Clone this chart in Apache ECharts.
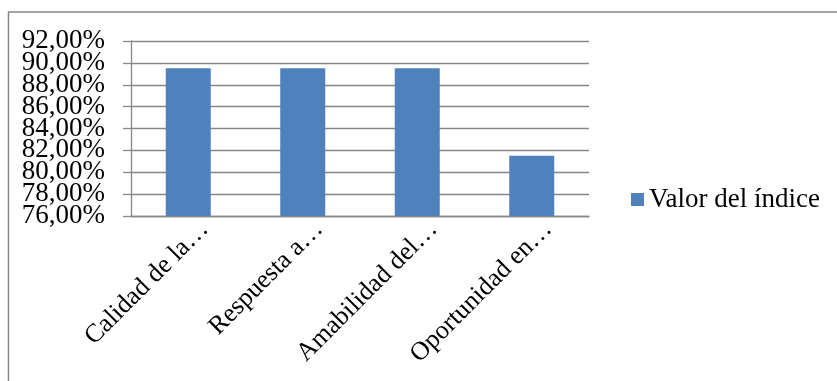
<!DOCTYPE html>
<html>
<head>
<meta charset="utf-8">
<script src="https://cdn.jsdelivr.net/npm/echarts@6/dist/echarts.min.js"></script>
<style>
  html, body { margin: 0; padding: 0; background: #fff; }
  #grafico { width: 837px; height: 381px; }
</style>
</head>
<body>
<div id="grafico"></div>
<script>
// datos del grafico
var categorias = ['Calidad de la…', 'Respuesta a…', 'Amabilidad del…', 'Oportunidad en…'];
var valorIndice = [89.5, 89.5, 89.5, 81.5];
var nombreSerie = 'Valor del índice';
var ejeMin = 76, ejeMax = 92, ejePaso = 2;

var fuente = 'Liberation Serif, Times New Roman, serif';
var gris = '#878787';

function formatoPct(v) {
    return v.toFixed(2).replace('.', ',') + '%';
}

// etiquetas del eje y repartidas en dos ejes para que no se oculten al solaparse
function ejeEtiquetas(paso, formatter, extremos) {
    return {
        type: 'value',
        position: 'left',
        offset: 0,
        min: ejeMin,
        max: ejeMax,
        interval: paso,
        axisLine: {show: false},
        axisTick: {show: false},
        splitLine: {show: false},
        axisLabel: {
            margin: 26,
            showMinLabel: extremos,
            showMaxLabel: extremos,
            fontFamily: fuente,
            fontSize: 27,
            color: '#000',
            formatter: formatter
        }
    };
}

var myChart = echarts.init(document.getElementById('grafico'));

var option = {
    backgroundColor: '#fff',
    animation: false,
    graphic: [
        {
            type: 'rect',
            shape: {x: 8.5, y: 12, width: 900, height: 450},
            style: {fill: 'none', stroke: gris, lineWidth: 1.5}
        }
    ],
    legend: {
        data: [nombreSerie],
        left: 631,
        top: 186,
        padding: 0,
        itemWidth: 13,
        itemHeight: 13,
        icon: 'rect',
        textStyle: {fontFamily: fuente, fontSize: 27, color: '#000'}
    },
    grid: {
        left: 131,
        right: 248,
        top: 41,
        bottom: 165
    },
    xAxis: [
        {
            type: 'category',
            data: categorias,
            axisLine: {lineStyle: {color: gris, width: 1.3}},
            axisTick: {length: 6, lineStyle: {color: gris, width: 1.3}},
            axisLabel: {
                rotate: 45,
                interval: 0,
                margin: -7,
                verticalAlign: 'top',
                padding: [10, 0, 0, 0],
                fontFamily: fuente,
                fontSize: 26,
                color: '#000'
            }
        }
    ],
    yAxis: [
        {
            type: 'value',
            position: 'left',
            min: ejeMin,
            max: ejeMax,
            interval: ejePaso,
            axisLine: {show: true, lineStyle: {color: gris, width: 1.3}},
            axisTick: {show: true, length: 8, lineStyle: {color: gris, width: 1.3}},
            splitLine: {lineStyle: {color: gris, width: 1.3}},
            axisLabel: {show: false}
        },
        ejeEtiquetas(ejePaso * 2, formatoPct, null),
        ejeEtiquetas(ejePaso, function (v) {
            return Math.round(v - ejeMin) % (ejePaso * 2) === 0 ? '' : formatoPct(v);
        }, false)
    ],
    series: [
        {
            name: nombreSerie,
            type: 'bar',
            barWidth: 45,
            yAxisIndex: 0,
            data: valorIndice,
            itemStyle: {color: '#4F81BD'}
        }
    ]
};
myChart.setOption(option);
</script>
</body>
</html>
